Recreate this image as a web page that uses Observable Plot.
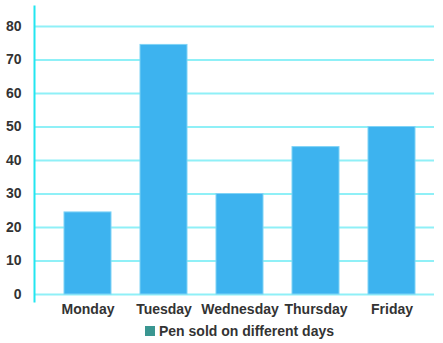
<!DOCTYPE html>
<html>
<head>
<meta charset="utf-8">
<script src="https://cdn.jsdelivr.net/npm/d3@7"></script>
<script src="https://cdn.jsdelivr.net/npm/@observablehq/plot@0.6"></script>
<style>
  html, body { margin: 0; padding: 0; background: #fff; }
  #wrap { position: relative; width: 443px; height: 343px; font-family: "Liberation Sans", Arial, sans-serif; }
  #legend { position: absolute; left: 145px; top: 323px; display: flex; align-items: center; font-size: 14px; font-weight: bold; color: #333; white-space: nowrap; }
  #legend .sw { width: 10px; height: 10px; background: #3a9691; margin-right: 4px; }
</style>
</head>
<body>
<div id="wrap"></div>
<script>
const days = ["Monday", "Tuesday", "Wednesday", "Thursday", "Friday"];
const pensSold = [24.5, 74.5, 30, 44, 50];
const yTicks = [0, 10, 20, 30, 40, 50, 60, 70, 80];
const seriesName = "Pen sold on different days";

const data = days.map((d, i) => ({day: d, value: pensSold[i]}));

const chart = Plot.plot({
  width: 443,
  height: 318,
  marginLeft: 34,
  marginRight: 9,
  marginTop: 6,
  marginBottom: 17,
  style: {fontFamily: "Liberation Sans, Arial, sans-serif", fontSize: "14px", fontWeight: "bold", color: "#333", background: "#fff"},
  x: {domain: days, range: [63, 416], paddingInner: 0.386, paddingOuter: 0},
  y: {domain: [0, 80], range: [294, 26]},
  marks: [
    Plot.gridY(yTicks, {stroke: "#8ff0f7", strokeOpacity: 1, strokeWidth: 2}),
    Plot.barY(data, {x: "day", y: "value", fill: "#3db3ef", stroke: "#7fd3f6", strokeWidth: 1}),
    Plot.frame({anchor: "left", stroke: "#22e6f0", strokeWidth: 2}),
    Plot.axisY(yTicks, {tickSize: 0, tickPadding: 13, label: null, fill: "#333", fontSize: 14, fontWeight: "bold"}),
    Plot.axisX({tickSize: 0, tickPadding: 3, label: null, fill: "#333", fontSize: 14, fontWeight: "bold"})
  ]
});

const wrap = document.getElementById("wrap");
wrap.appendChild(chart);
const legend = document.createElement("div");
legend.id = "legend";
legend.innerHTML = '<span class="sw"></span><span></span>';
legend.lastChild.textContent = seriesName;
wrap.appendChild(legend);
</script>
</body>
</html>
